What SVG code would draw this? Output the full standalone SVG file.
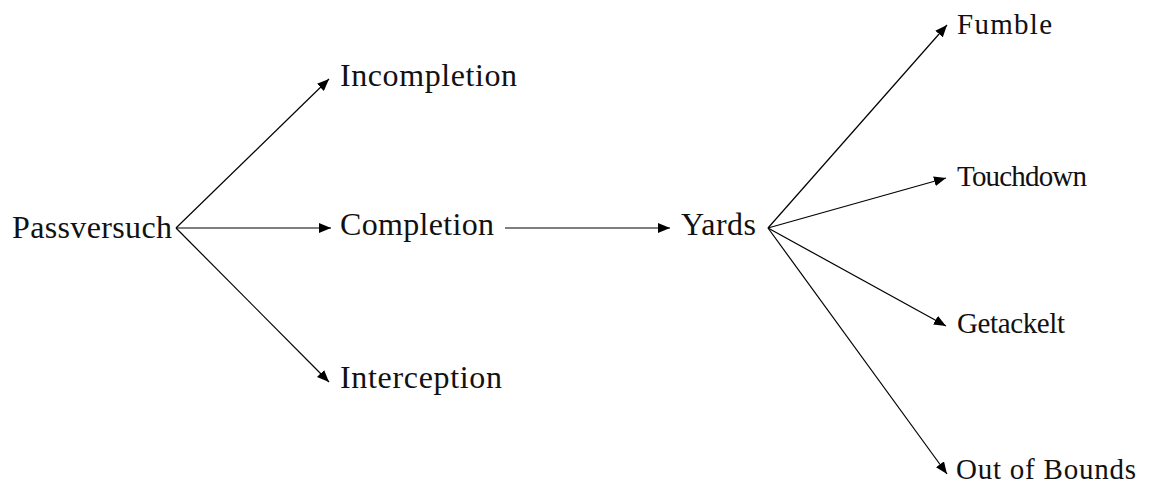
<svg xmlns="http://www.w3.org/2000/svg" width="1155" height="486" viewBox="0 0 1155 486">
<style>
text{font-family:"Liberation Serif","DejaVu Serif",serif;font-size:32px;fill:#111}
text.r{font-size:29px}
.c line{stroke:#000;stroke-width:1.2;marker-end:url(#a)}
</style>
<defs><marker id="a" viewBox="0 0 12 10" refX="12" refY="5" markerWidth="12" markerHeight="10" markerUnits="userSpaceOnUse" orient="auto"><path d="M0,0L12,5L0,10z" fill="#000"/></marker></defs>
<rect width="1155" height="486" fill="#fff"/>
<g class="c" id="connectors">
<line x1="176" y1="228" x2="329" y2="79"/>
<line x1="176" y1="228" x2="331" y2="228"/>
<line x1="176" y1="228" x2="329" y2="382"/>
<line x1="505" y1="228" x2="670" y2="228"/>
<line x1="768" y1="228" x2="947" y2="25"/>
<line x1="768" y1="228" x2="946" y2="178"/>
<line x1="768" y1="228" x2="946" y2="326"/>
<line x1="768" y1="228" x2="947" y2="474"/>
</g>
<g id="passversuch"><text x="12" y="238" textLength="160">Passversuch</text></g>
<g id="incompletion"><text x="340" y="86" textLength="177">Incompletion</text></g>
<g id="completion"><text x="340" y="235" textLength="154">Completion</text></g>
<g id="interception"><text x="340" y="388" textLength="162">Interception</text></g>
<g id="yards"><text x="681" y="235" textLength="75">Yards</text></g>
<g id="fumble"><text class="r" x="957" y="34" textLength="95">Fumble</text></g>
<g id="touchdown"><text class="r" x="957" y="186" textLength="130">Touchdown</text></g>
<g id="getackelt"><text class="r" x="957" y="333" textLength="108">Getackelt</text></g>
<g id="outofbounds"><text class="r" x="956" y="479" textLength="180">Out of Bounds</text></g>
</svg>
